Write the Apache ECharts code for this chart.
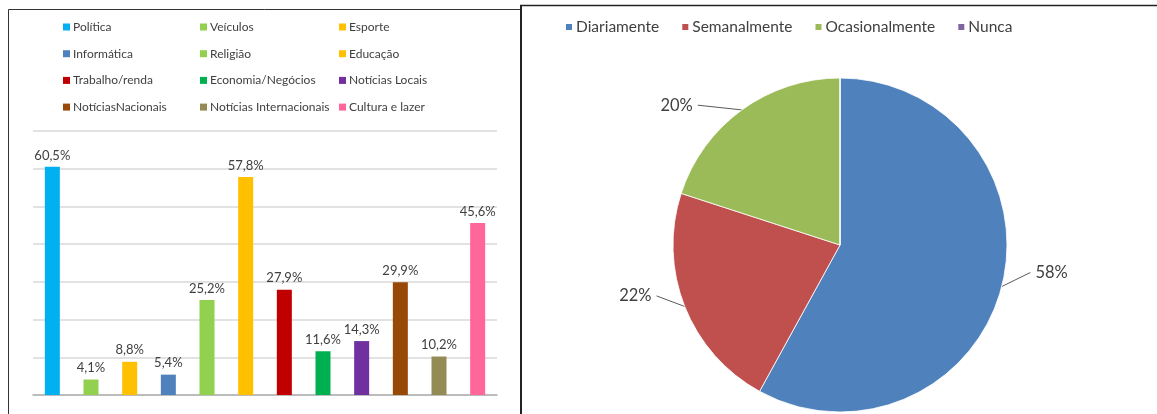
<!DOCTYPE html>
<html>
<head>
<meta charset="utf-8">
<script src="https://cdn.jsdelivr.net/npm/echarts@6/dist/echarts.min.js"></script>
<style>
  html, body { margin: 0; padding: 0; background: #fff; }
  #chart { width: 1157px; height: 414px; }
</style>
</head>
<body>
<div id="chart"></div>
<script>
// 左侧柱状图数据
const categories = ['Política', 'Veículos', 'Esporte', 'Informática', 'Religião', 'Educação',
  'Trabalho/renda', 'Economia/Negócios', 'Notícias Locais', 'NotíciasNacionais', 'Notícias Internacionais', 'Cultura e lazer']
const barValues = [60.5, 4.1, 8.8, 5.4, 25.2, 57.8, 27.9, 11.6, 14.3, 29.9, 10.2, 45.6]
const barColors = ['#00B0F0', '#92D050', '#FFC000', '#4F81BD', '#92D050', '#FFC000',
  '#C00000', '#00B050', '#7030A0', '#984807', '#948A54', '#FF6699']
const yTicks = [0, 10, 20, 30, 40, 50, 60, 70]

// 右侧饼图数据
const pieNames = ['Diariamente', 'Semanalmente', 'Ocasionalmente', 'Nunca']
const pieValues = [58, 22, 20, 0]
const pieColors = ['#4F81BD', '#C0504D', '#9BBB59', '#8064A2']

const font = 'Lato, "Open Sans", sans-serif'
const textColor = '#404040'

// 饼图标签微调 (dx, dy)
const pieLabelShift = [[-9, -17], [9, -15], [-11, 5], [0, 0]]

const myChart = echarts.init(document.getElementById('chart'))

// 每个柱子一个系列，方便图例显示
const barSeries = categories.map((name, i) => ({
  name: name,
  type: 'bar',
  stack: 'all',
  barWidth: 15,
  itemStyle: { color: barColors[i] },
  label: {
    show: true,
    position: 'top',
    distance: 5,
    color: textColor,
    fontFamily: font,
    fontSize: 13,
    formatter: p => p.value.toFixed(1).replace('.', ',') + '%'
  },
  data: barValues.map((v, j) => (j === i ? v : '-'))
}))

// 图例分三列
const legendCols = [0, 1, 2].map((col, k) => ({
  orient: 'vertical',
  left: [58, 195, 334][k],
  top: 16,
  icon: 'rect',
  itemWidth: 7,
  itemHeight: 7,
  itemGap: 14.7,
  selectedMode: false,
  textStyle: { color: textColor, fontFamily: font, fontSize: 12, padding: [0, 0, 0, -2] },
  data: categories.filter((c, i) => i % 3 === col)
}))

const option = {
  animation: false,
  legend: legendCols.concat([{
    orient: 'horizontal',
    left: 559,
    top: 14,
    icon: 'rect',
    itemWidth: 8,
    itemHeight: 8,
    itemGap: 21,
    selectedMode: false,
    textStyle: { color: textColor, fontFamily: font, fontSize: 15.5, padding: [0, 0, 0, -2] },
    data: pieNames
  }]),
  grid: { left: 33, right: 660, top: 131, bottom: 19 },
  xAxis: {
    type: 'category',
    data: categories,
    axisLine: { lineStyle: { color: '#b0b0b0', width: 1.5 } },
    axisTick: { show: false },
    axisLabel: { show: false }
  },
  yAxis: {
    type: 'value',
    min: yTicks[0],
    max: yTicks[yTicks.length - 1],
    interval: 10,
    axisLabel: { show: false },
    axisLine: { show: false },
    axisTick: { show: false },
    splitLine: { lineStyle: { color: '#d9d9d9', width: 1.5 } }
  },
  series: barSeries.concat([{
    name: 'freq',
    type: 'pie',
    center: [840, 245],
    radius: 167,
    startAngle: 90,
    clockwise: true,
    itemStyle: { borderColor: '#fff', borderWidth: 0.8 },
    label: {
      show: true,
      position: 'outside',
      color: textColor,
      fontFamily: font,
      fontSize: 16.5,
      formatter: '{c}%'
    },
    labelLine: {
      show: true,
      length: 12,
      length2: 26,
      lineStyle: { color: '#595959', width: 1 }
    },
    // 移动标签，引导线直接连到标签
    labelLayout: p => {
      const s = pieLabelShift[p.dataIndex]
      const pts = p.labelLinePoints
      const res = { dx: s[0], dy: s[1] }
      if (pts && pts.length === 3) {
        res.labelLinePoints = [pts[0], [pts[2][0] + s[0], pts[2][1] + s[1]]]
      }
      return res
    },
    data: pieNames.map((n, i) => ({
      name: n,
      value: pieValues[i],
      itemStyle: { color: pieColors[i] },
      label: { show: pieValues[i] > 0 },
      labelLine: { show: pieValues[i] > 0 }
    }))
  }]),
  // 两个面板的边框
  graphic: [
    { type: 'polyline', shape: { points: [[8.5, 414], [8.5, 9.5], [520, 9.5]] }, style: { stroke: '#333', lineWidth: 1, fill: null } },
    { type: 'line', shape: { x1: 521, y1: 5, x2: 521, y2: 414 }, style: { stroke: '#222', lineWidth: 2 } },
    { type: 'line', shape: { x1: 520, y1: 5.5, x2: 1157, y2: 5.5 }, style: { stroke: '#222', lineWidth: 1.5 } }
  ]
}

myChart.setOption(option)
</script>
</body>
</html>
